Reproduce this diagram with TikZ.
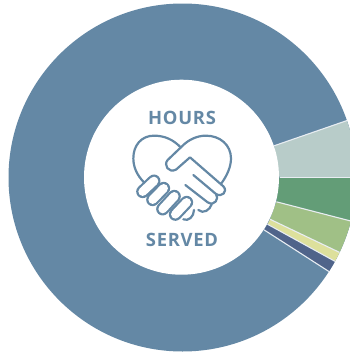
\documentclass[tikz,border=0pt]{standalone}
\usepackage{fontspec}
\setmainfont{Open Sans}
\definecolor{cBlue}{HTML}{6488A5}
\definecolor{cMist}{HTML}{B8CCC9}
\definecolor{cGreen}{HTML}{639D77}
\definecolor{cLeaf}{HTML}{A0C086}
\definecolor{cStraw}{HTML}{DDE09C}
\definecolor{cNavy}{HTML}{50648A}
\tikzset{
  sector/.style={draw=white!85!cBlue,line width=1.1pt,line join=round},
  icon/.style={draw=cBlue,line width=2.2pt,line cap=round,line join=round},
  finger/.style={draw=cBlue,line width=13pt,line cap=round},
  fingerin/.style={draw=white,line width=8.6pt,line cap=round},
  label/.style={text=cBlue,font=\bfseries\fontsize{18.4}{18.4}\selectfont\addfontfeature{LetterSpace=4},inner sep=0pt,anchor=base}
}
\newcommand{\wedgeat}[3]{%
  \fill[#3] ({182.5+97*cos(#1)},{177.5-97*sin(#1)}) -- ({182.5+174*cos(#1)},{177.5-174*sin(#1)})
   arc[start angle=-#1,end angle=-#2,radius=174] -- ({182.5+97*cos(#2)},{177.5-97*sin(#2)}) -- cycle;
  \draw[sector] ({182.5+97*cos(#1)},{177.5-97*sin(#1)}) -- ({182.5+174*cos(#1)},{177.5-174*sin(#1)});
}
\begin{document}
\begin{tikzpicture}[x=1pt,y=-1pt]
\useasboundingbox (0,0) rectangle (350,354);
\clip (0,0) rectangle (350,354);
\fill[cBlue] (182.5,177.5) circle[radius=174];
\wedgeat{19.1}{0}{cMist}
\wedgeat{0}{-14.5}{cGreen}
\wedgeat{-14.5}{-25.5}{cLeaf}
\wedgeat{-25.5}{-28.8}{cStraw}
\wedgeat{-28.8}{-32.7}{cNavy}
\draw[sector] ({182.5+97*cos(-32.7)},{177.5-97*sin(-32.7)}) -- ({182.5+174*cos(-32.7)},{177.5-174*sin(-32.7)});
\fill[white] (181.5,177.2) circle[radius=97.5];
\node[label] (hours) at (182,124) {HOURS};
\node[label] (served) at (182,246) {SERVED};
\begin{scope}[shift={(120,95)},x=0.3333pt,y=-0.3333pt]
  % left lobe
  \draw[icon] (72,262) .. controls (50,240) and (40,215) .. (40,190)
     .. controls (40,150) and (65,122) .. (102,122)
     .. controls (135,122) and (160,135) .. (180,155);
  % right lobe and hand
  \draw[icon] (305,264) .. controls (322,240) and (333,215) .. (333,190)
     .. controls (333,150) and (300,122) .. (258,122)
     .. controls (230,122) and (205,135) .. (188,152)
     -- (143,195) .. controls (130,210) and (145,235) .. (168,224)
     -- (210,187) -- (310,274)
     .. controls (325,290) and (305,308) .. (288,297);
  \draw[icon] (220,240) -- (288,297) .. controls (298,310) and (285,335) .. (263,322) -- (196,270);
  \draw[icon] (275,328) .. controls (270,345) and (250,358) .. (235,345);
  \draw[icon] (222,345) .. controls (222,365) and (205,380) .. (190,373);
  % left hand fingers
  \foreach \ax/\ay/\bx/\by in {102/258/68/290, 131/280/98/314, 163/304/128/342, 200/322/166/358}{
    \draw[finger] (\ax,\ay) -- (\bx,\by);
  }
  \foreach \ax/\ay/\bx/\by in {102/258/68/290, 131/280/98/314, 163/304/128/342, 200/322/166/358}{
    \draw[fingerin] (\ax,\ay) -- (\bx,\by);
  }
\end{scope}
\end{tikzpicture}
\end{document}
